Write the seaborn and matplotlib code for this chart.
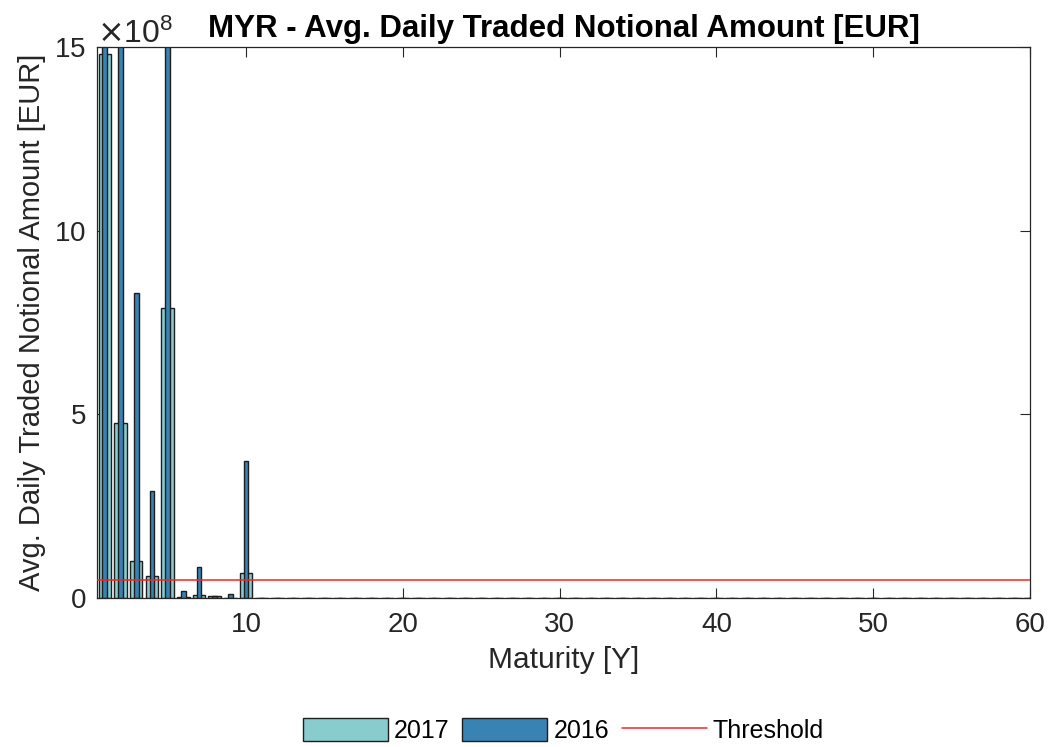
import matplotlib
matplotlib.use("Agg")
import matplotlib.pyplot as plt
from matplotlib.ticker import ScalarFormatter
import pandas as pd
import seaborn as sns

# Maturity buckets in years
maturity = list(range(1, 61))

# Average daily traded notional amount [EUR] per maturity bucket
notional_2017 = [
    14.8e8, 4.76e8, 1.01e8, 0.60e8, 7.90e8, 0.03e8, 0.08e8, 0.05e8, 0.0, 0.69e8,
    0, 0, 0, 0, 0, 0, 0, 0, 0, 0,
    0, 0, 0, 0, 0, 0, 0, 0, 0, 0,
    0, 0, 0, 0, 0, 0, 0, 0, 0, 0,
    0, 0, 0, 0, 0, 0, 0, 0, 0, 0,
    0, 0, 0, 0, 0, 0, 0, 0, 0, 0,
]
notional_2016 = [
    17.0e8, 16.5e8, 8.30e8, 2.91e8, 16.0e8, 0.20e8, 0.85e8, 0.05e8, 0.10e8, 3.74e8,
    0, 0, 0, 0, 0, 0, 0, 0, 0, 0,
    0, 0, 0, 0, 0, 0, 0, 0, 0, 0,
    0, 0, 0, 0, 0, 0, 0, 0, 0, 0,
    0, 0, 0, 0, 0, 0, 0, 0, 0, 0,
    0, 0, 0, 0, 0, 0, 0, 0, 0, 0,
]
threshold = 0.5e8

title = "MYR - Avg. Daily Traded Notional Amount [EUR]"
x_label = "Maturity [Y]"
y_label = "Avg. Daily Traded Notional Amount [EUR]"
x_ticks = [10, 20, 30, 40, 50, 60]
y_ticks = [0, 5e8, 10e8, 15e8]

df = pd.DataFrame({"maturity": maturity,
                   "y2017": notional_2017,
                   "y2016": notional_2016})

sns.set_theme(style="white")
plt.rcParams["font.family"] = ["Liberation Sans", "DejaVu Sans"]
text_color = "#262626"

fig = plt.figure(figsize=(10.52, 7.47), dpi=100)
ax = fig.add_axes([97 / 1052, 1 - 598 / 747, (1030 - 97) / 1052, (598 - 47) / 747])

light = "#88CCCE"
dark = "#3882B4"
edge = "#1e1e1e"

sns.barplot(data=df, x="maturity", y="y2017", native_scale=True, width=0.8,
            color=light, saturation=1, edgecolor=edge, linewidth=1.0,
            label="2017", ax=ax)
sns.barplot(data=df, x="maturity", y="y2016", native_scale=True, width=0.3,
            color=dark, saturation=1, edgecolor=edge, linewidth=1.0,
            label="2016", ax=ax)
ax.axhline(threshold, color="#FF2020", linewidth=1.1, label="Threshold", zorder=5)

ax.set_xlim(0.5, 60)
ax.set_ylim(0, 15e8)
ax.set_xticks(x_ticks)
ax.set_yticks(y_ticks)

fmt = ScalarFormatter(useMathText=True)
fmt.set_powerlimits((8, 8))
ax.yaxis.set_major_formatter(fmt)
ax.yaxis.get_offset_text().set_fontsize(23)
ax.yaxis.get_offset_text().set_color(text_color)

ax.tick_params(axis="both", which="major", direction="in", length=7, width=0.8,
               labelsize=20, colors=text_color, top=True, right=True,
               bottom=True, left=True)
ax.tick_params(axis="x", pad=10)
ax.tick_params(axis="y", pad=8)
for sp in ax.spines.values():
    sp.set_color(text_color)
    sp.set_linewidth(0.9)

ax.set_xlabel(x_label, fontsize=21.5, color=text_color, labelpad=6)
ax.set_ylabel(y_label, fontsize=21, color=text_color, labelpad=6)
ax.set_title(title, fontsize=22.5, fontweight="bold", color="black", pad=7)

handles, labels = ax.get_legend_handles_labels()
order = [labels.index(n) for n in ("2017", "2016", "Threshold")]
leg = ax.legend([handles[i] for i in order], [labels[i] for i in order],
                loc="center", bbox_to_anchor=(0.5, -0.24), ncol=3, frameon=False,
                fontsize=18, handlelength=3.4, handleheight=1.05,
                handletextpad=0.25, columnspacing=0.5)
for t in leg.get_texts():
    t.set_color("black")

fig.savefig("out.png", dpi=100)
